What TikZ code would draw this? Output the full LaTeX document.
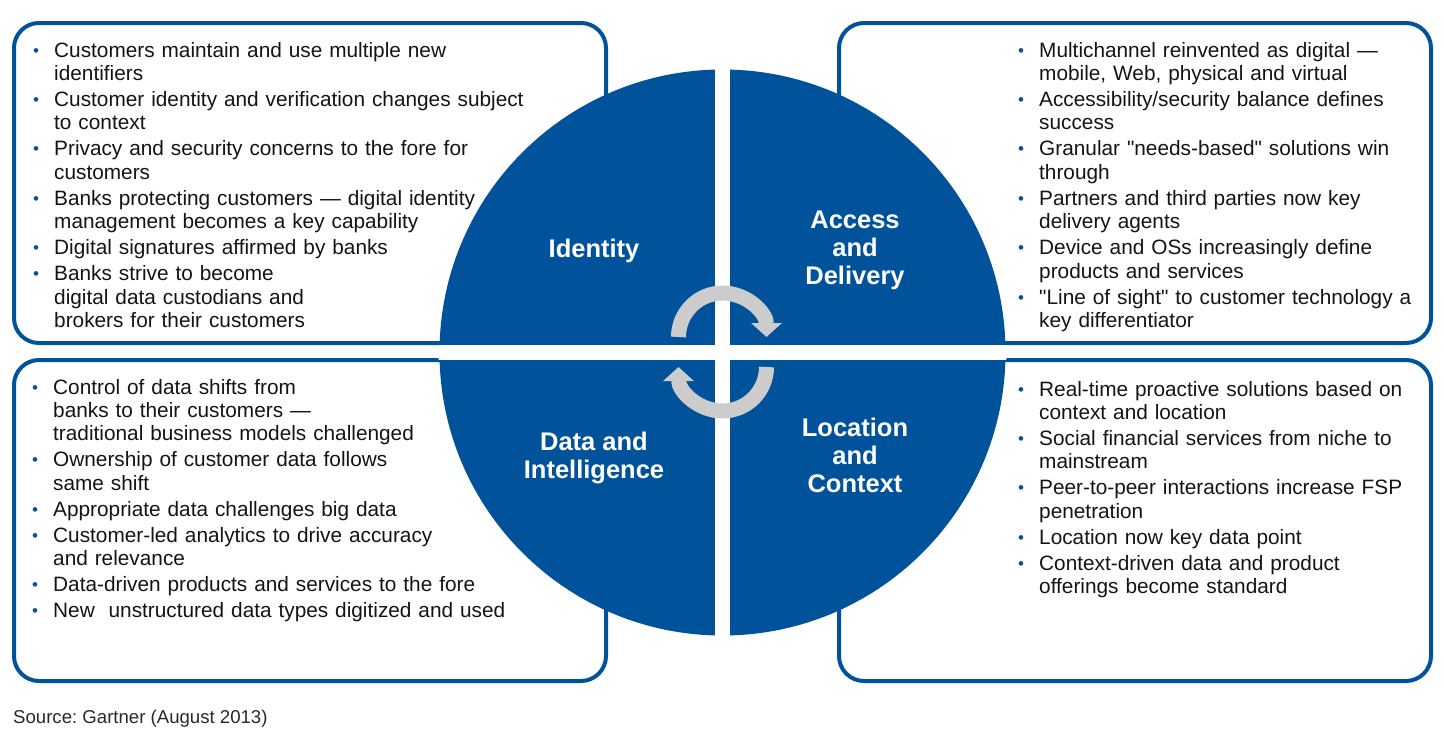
\documentclass[tikz,border=0pt]{standalone}
\usepackage{fontspec}
\setmainfont{Liberation Sans}[Ligatures=TeXOff]
\usetikzlibrary{arrows.meta}
\definecolor{gblue}{RGB}{0,82,155}
\definecolor{ggray}{RGB}{204,204,204}
\definecolor{gtext}{RGB}{20,20,20}
\definecolor{gsrc}{RGB}{40,40,40}
\newcommand{\bul}[1]{\hangindent=21pt\hangafter=1\noindent\makebox[21pt][l]{\raisebox{1pt}{\fontsize{17}{17}\selectfont\textcolor{gblue}{•}}}#1\par}
\newcommand{\nb}[1]{\vspace{2.6pt}\bul{#1}}
\frenchspacing
\begin{document}
\begin{tikzpicture}[x=1pt,y=-1pt,
  box/.style={draw=gblue,line width=4pt,rounded corners=25pt},
  listl/.style={anchor=base west,inner sep=0pt,text width=600pt,align=left,font=\fontsize{20.8}{23.4}\selectfont,text=gtext},
  listr/.style={anchor=base west,inner sep=0pt,text width=420pt,align=left,font=\fontsize{20.8}{23.4}\selectfont,text=gtext},
  ttl/.style={anchor=north,text=white,font=\fontsize{25.5}{28}\selectfont\bfseries,align=center,inner sep=0pt},
  cyc/.style={draw=ggray,line width=15pt,-{Triangle[width=30pt,length=14pt]}}
]
\useasboundingbox (0,0) rectangle (1444,737);
% boxes
\draw[box] (14,23) rectangle (606,343);
\draw[box] (839,23) rectangle (1431,343);
\draw[box] (14,360) rectangle (606,681);
\draw[box] (839,360) rectangle (1431,681);
% circle
\coordinate (c) at (722.5,352.5);
\fill[gblue] (c) circle[radius=283];
\begin{scope}
  \clip (c) circle[radius=284];
  \fill[white] (715,0) rectangle (730,737);
  \fill[white] (0,345) rectangle (1444,360);
\end{scope}
% cycle arrows
\coordinate (a1) at (678.5,337);
\coordinate (a2) at (766.5,367);
\draw[cyc] (a1) arc[start angle=180,end angle=360,radius=44];
\draw[cyc] (a2) arc[start angle=0,end angle=180,radius=44];
% titles
\node[ttl] (t1) at (594,238.7) {Identity};
\node[ttl] (t2) at (855,210.7) {Access\\and\\Delivery};
\node[ttl] (t3) at (594,431.7) {Data and\\Intelligence};
\node[ttl] (t4) at (855,417.7) {Location\\and\\Context};
% lists
\node[listl] (l1) at (33,57) {%
\bul{Customers maintain and use multiple new\newline identifiers}
\nb{Customer identity and verification changes subject\newline to context}
\nb{Privacy and security concerns to the fore for\newline customers}
\nb{Banks protecting customers — digital identity\newline management becomes a key capability}
\nb{Digital signatures affirmed by banks}
\nb{Banks strive to become\newline digital data custodians and\newline brokers for their customers}};
\node[listr] (l2) at (1018,57) {%
\bul{Multichannel reinvented as digital —\newline mobile, Web, physical and virtual}
\nb{Accessibility/security balance defines\newline success}
\nb{Granular "needs-based" solutions win\newline through}
\nb{Partners and third parties now key\newline delivery agents}
\nb{Device and OSs increasingly define\newline products and services}
\nb{"Line of sight" to customer technology a\newline key differentiator}};
\node[listl] (l3) at (32,394) {%
\bul{Control of data shifts from\newline banks to their customers —\newline traditional business models challenged}
\nb{Ownership of customer data follows\newline same shift}
\nb{Appropriate data challenges big data}
\nb{Customer-led analytics to drive accuracy\newline and relevance}
\nb{Data-driven products and services to the fore}
\nb{New\ \ unstructured data types digitized and used}};
\node[listr] (l4) at (1018,396) {%
\bul{Real-time proactive solutions based on\newline context and location}
\nb{Social financial services from niche to\newline mainstream}
\nb{Peer-to-peer interactions increase FSP\newline penetration}
\nb{Location now key data point}
\nb{Context-driven data and product\newline offerings become standard}};
\node[anchor=base west,inner sep=0pt,font=\fontsize{18.6}{20}\selectfont,text=gsrc] (src) at (13,723) {Source: Gartner (August 2013)};
\end{tikzpicture}
\end{document}
